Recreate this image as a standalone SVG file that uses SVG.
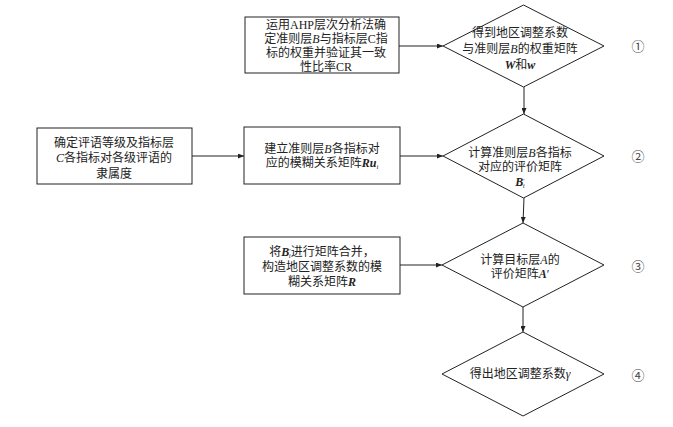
<svg xmlns="http://www.w3.org/2000/svg" width="673" height="427" viewBox="0 0 673 427">
<style>
.shape{fill:#fff;stroke:#222;stroke-width:1}
.t{font-family:"Liberation Serif","Noto Sans CJK SC",serif;font-size:12px;fill:#222;text-anchor:middle}
.i{font-style:italic}
.bi{font-style:italic;font-weight:bold}
.sub{font-size:7px}
.num{font-family:"Noto Sans CJK SC","DejaVu Sans",sans-serif;font-size:13px;fill:#444;text-anchor:middle}
.c{stroke:#222;stroke-width:1;fill:none;marker-end:url(#ah)}
</style>
<defs>
<marker id="ah" markerWidth="6" markerHeight="5" refX="6" refY="2.5" orient="auto" markerUnits="userSpaceOnUse">
<path d="M0,0 L6,2.5 L0,5 z" fill="#222"/>
</marker>
</defs>
<rect width="673" height="427" fill="#fff"/>
<g id="connectors">
<line class="c" x1="399" y1="46" x2="443" y2="46"/>
<line class="c" x1="524" y1="87" x2="524" y2="114"/>
<line class="c" x1="192" y1="156" x2="244" y2="156"/>
<line class="c" x1="400" y1="156" x2="443" y2="156"/>
<line class="c" x1="524" y1="198" x2="523" y2="223"/>
<line class="c" x1="400" y1="265" x2="442" y2="265"/>
<line class="c" x1="523" y1="307" x2="523" y2="332"/>
</g>
<g id="box1">
<rect class="shape" x="245" y="17" width="154" height="56"/>
<text class="t" x="326" y="29">运用AHP层次分析法确</text>
<text class="t" x="326" y="43">定准则层<tspan class="i">B</tspan>与指标层C指</text>
<text class="t" x="326" y="57">标的权重并验证其一致</text>
<text class="t" x="326" y="71">性比率CR</text>
</g>
<g id="d1">
<polygon class="shape" points="523.5,5 604,46 523.5,87 443,46"/>
<text class="t" x="520" y="37">得到地区调整系数</text>
<text class="t" x="520" y="53">与准则层<tspan class="i">B</tspan>的权重矩阵</text>
<text class="t" x="520" y="69"><tspan class="bi">W</tspan>和<tspan class="bi">w</tspan></text>
</g>
<g id="box3">
<rect class="shape" x="37" y="128" width="155" height="56"/>
<text class="t" x="114" y="147">确定评语等级及指标层</text>
<text class="t" x="114" y="162"><tspan class="i">C</tspan>各指标对各级评语的</text>
<text class="t" x="114" y="178">隶属度</text>
</g>
<g id="box2">
<rect class="shape" x="244" y="127" width="156" height="57"/>
<text class="t" x="322" y="153">建立准则层<tspan class="i">B</tspan>各指标对</text>
<text class="t" x="322" y="167">应的模糊关系矩阵<tspan class="bi">Ru</tspan><tspan class="i sub" dy="2">i</tspan></text>
</g>
<g id="d2">
<polygon class="shape" points="523.5,114 604,156 523.5,198 443,156"/>
<text class="t" x="520" y="157">计算准则层<tspan class="i">B</tspan>各指标</text>
<text class="t" x="520" y="171">对应的评价矩阵</text>
<text class="t" x="520" y="186"><tspan class="bi">B</tspan><tspan class="sub" dy="-3">′</tspan><tspan class="i sub" dx="-2" dy="5">i</tspan></text>
</g>
<g id="box4">
<rect class="shape" x="244" y="237" width="156" height="57"/>
<text class="t" x="322" y="256"><tspan>将</tspan><tspan class="bi">B</tspan><tspan class="sub" dy="-3">′</tspan><tspan class="i sub" dx="-2" dy="5">i</tspan><tspan dy="-2">进行矩阵合并，</tspan></text>
<text class="t" x="322" y="271">构造地区调整系数的模</text>
<text class="t" x="322" y="286">糊关系矩阵<tspan class="bi">R</tspan></text>
</g>
<g id="d3">
<polygon class="shape" points="523,223 604,265 523,307 442,265"/>
<text class="t" x="520" y="264">计算目标层<tspan class="i">A</tspan>的</text>
<text class="t" x="520" y="278">评价矩阵<tspan class="bi">A</tspan>′</text>
</g>
<g id="d4">
<polygon class="shape" points="523,332 604,374 523,416 442,374"/>
<text class="t" x="520" y="378">得出地区调整系数<tspan class="i">γ</tspan></text>
</g>
<g id="labels">
<text class="num" x="638" y="51">①</text>
<text class="num" x="638" y="161">②</text>
<text class="num" x="638" y="271">③</text>
<text class="num" x="638" y="380">④</text>
</g>
</svg>
